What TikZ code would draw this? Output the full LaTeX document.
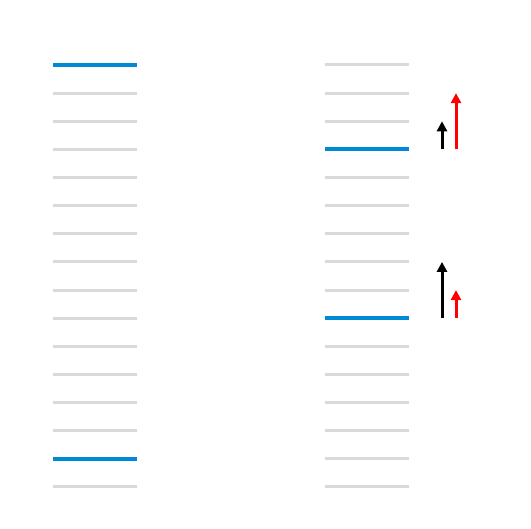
\documentclass[tikz,border=0pt]{standalone}
\usepackage{xcolor}
\usetikzlibrary{arrows.meta}

\definecolor{levelgray}{RGB}{218,218,218}
\definecolor{levelblue}{RGB}{0,137,212}

\tikzset{
  emptylevel/.style={levelgray,line width=3pt},
  fulllevel/.style={levelblue,line width=4pt},
  jump/.style={line width=3pt,-{Triangle[length=10pt,width=10pt]}},
}

\begin{document}
\begin{tikzpicture}[x=1pt,y=-1pt]
\useasboundingbox (0,0) rectangle (531,529);
\foreach \i in {0,...,15}{
  \draw[emptylevel] (53,{65+28.13*\i}) -- (137,{65+28.13*\i});
  \draw[emptylevel] (325,{65+28.13*\i}) -- (409,{65+28.13*\i});
}
\draw[fulllevel] (53,65) -- (137,65);
\draw[fulllevel] (53,{65+28.13*14}) -- (137,{65+28.13*14});
\draw[fulllevel] (325,{65+28.13*3}) -- (409,{65+28.13*3});
\draw[fulllevel] (325,{65+28.13*9}) -- (409,{65+28.13*9});

\coordinate (k3) at (442,{65+28.13*3});
\coordinate (k2) at (442,{65+28.13*2});
\coordinate (r3) at (456,{65+28.13*3});
\coordinate (r1) at (456,{65+28.13*1});
\coordinate (k9) at (442,{65+28.13*9});
\coordinate (k7) at (442,{65+28.13*7});
\coordinate (r9) at (456,{65+28.13*9});
\coordinate (r8) at (456,{65+28.13*8});

\draw[jump,black] (k3) -- (k2);
\draw[jump,red] (r3) -- (r1);
\draw[jump,black] (k9) -- (k7);
\draw[jump,red] (r9) -- (r8);
\end{tikzpicture}
\end{document}
